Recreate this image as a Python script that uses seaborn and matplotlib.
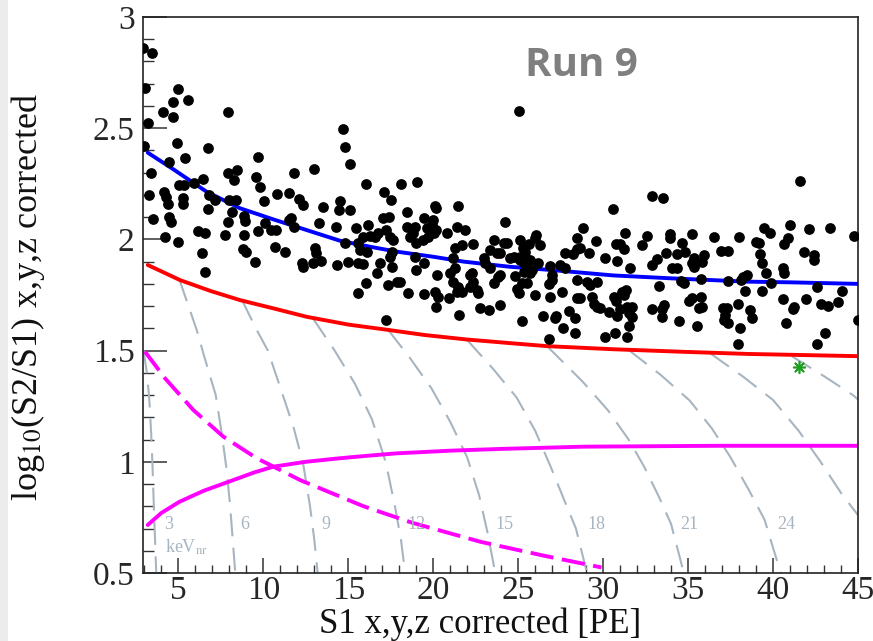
import numpy as np
import pandas as pd
import matplotlib
matplotlib.use("Agg")
import matplotlib.pyplot as plt
import seaborn as sns
from matplotlib.ticker import MultipleLocator, FuncFormatter
from matplotlib.patches import Rectangle

# ---------------- data ----------------
events_left = [
    (2.93, 2.86), (3.45, 2.84), (3.03, 2.68), (4.96, 2.675),
    (3.19, 2.525), (3.00, 2.42), (3.39, 2.30), (3.29, 2.20), (3.49, 2.09),
    (4.08, 2.575), (4.67, 2.62), (4.67, 2.55), (4.18, 2.215), (4.27, 2.19),
    (4.37, 2.16), (4.47, 2.10), (4.57, 2.08), (4.23, 2.01), (4.92, 2.435),
    (4.47, 2.35), (4.96, 1.99), (5.55, 2.627), (5.39, 2.365), (5.06, 2.245),
    (5.36, 2.245), (5.26, 2.185), (5.26, 2.16), (5.95, 2.255), (6.14, 2.04),
    (6.40, 1.94), (6.59, 1.855), (6.54, 2.027), (6.48, 2.27), (6.77, 2.41),
    (6.79, 2.20), (6.77, 2.136), (7.13, 2.177), (7.91, 2.575), (7.95, 2.297),
    (8.25, 2.267), (8.46, 2.312), (8.01, 2.177), (8.40, 2.177), (8.17, 2.125),
    (7.91, 2.077), (7.72, 2.02), (9.68, 2.369), (9.55, 2.282), (9.82, 2.234),
    (10.04, 2.173), (8.86, 2.105), (8.90, 2.084), (9.70, 2.038), (10.10, 2.075),
    (8.86, 2.02), (8.80, 1.955), (8.99, 1.944), (9.52, 1.897), (10.82, 2.203),
    (11.51, 2.21), (10.43, 2.042), (10.76, 2.042), (10.71, 1.967), (11.26, 1.942),
    (11.65, 2.094), (11.51, 2.087), (11.81, 2.057), (11.81, 2.297), (12.10, 2.18),
    (12.34, 2.155), (12.97, 2.315), (13.52, 2.144), (13.26, 2.072), (13.07, 1.962),
    (13.09, 1.937), (12.93, 1.892), (13.38, 1.903), (12.30, 1.895), (12.34, 1.877),
]
events_mid = [
    (14.70, 2.495), (14.80, 2.417), (15.09, 2.337), (14.54, 2.174), (14.46, 2.132),
    (15.09, 2.132), (14.30, 2.054), (14.80, 1.982), (14.34, 1.887), (14.99, 1.897),
    (15.48, 2.053), (15.58, 1.982), (15.68, 1.952), (15.58, 1.892), (15.88, 1.888),
    (16.04, 1.802), (15.58, 1.757), (16.04, 2.248), (16.17, 2.065), (16.27, 2.015),
    (16.57, 2.012), (16.76, 2.027), (16.11, 1.945), (15.84, 2.012), (17.12, 2.212),
    (17.51, 2.177), (17.06, 2.095), (17.41, 2.102), (17.22, 2.042), (17.45, 2.009),
    (17.65, 1.997), (17.55, 1.945), (17.45, 1.922), (16.86, 1.892), (17.55, 1.877),
    (16.67, 1.847), (17.35, 1.795), (17.85, 1.81), (18.04, 1.81), (17.22, 1.637),
    (18.08, 2.248), (18.53, 1.757), (18.43, 2.125), (18.43, 2.057), (18.79, 2.027),
    (18.98, 1.982), (18.93, 2.057), (18.63, 2.012), (19.03, 2.26), (18.93, 1.922),
    (18.98, 1.862), (19.48, 2.098), (19.91, 2.065), (19.61, 2.05), (19.71, 2.012),
    (19.42, 1.997), (20.11, 2.15), (20.17, 2.14), (19.97, 2.087), (20.05, 2.027),
    (20.17, 2.042), (19.48, 1.892), (19.48, 1.754), (20.21, 1.84), (20.11, 1.765),
    (20.30, 1.742), (20.17, 1.697), (20.80, 2.027), (21.48, 2.15), (21.39, 2.057),
    (21.88, 2.042), (21.15, 1.915), (21.29, 1.96), (21.68, 1.975), (20.99, 1.847),
    (21.29, 1.87), (21.19, 1.81), (21.48, 1.787), (21.39, 1.765), (21.68, 1.765),
    (20.95, 1.735), (21.54, 1.66), (22.17, 1.84), (22.27, 1.847), (22.37, 1.81),
    (22.17, 1.787), (22.57, 1.772), (22.66, 1.757), (22.37, 1.979), (22.76, 1.69),
    (22.96, 1.915), (23.06, 1.892), (23.35, 1.952), (23.55, 1.997), (23.75, 1.937),
    (23.94, 1.937), (24.24, 2.08), (24.14, 1.982), (24.34, 1.982), (23.35, 1.87),
    (23.55, 1.802), (23.84, 1.832), (23.94, 1.84), (23.94, 1.705), (23.31, 1.682),
    (24.53, 1.915),
]
events_right = [
    (25.02, 2.577), (41.60, 2.264), (32.85, 2.195), (33.52, 2.188), (30.59, 2.137),
    (28.80, 2.053), (31.28, 2.027), (32.59, 2.015), (33.91, 2.023), (35.21, 2.023),
    (33.91, 2.005), (34.66, 1.985), (36.53, 2.009), (38.00, 2.012), (39.48, 2.05),
    (39.83, 2.03), (41.01, 2.065), (42.13, 2.045), (43.35, 2.053), (44.79, 2.017),
    (40.86, 2.008), (40.62, 1.979), (38.99, 1.99), (39.15, 1.985), (29.60, 1.994),
    (28.46, 2.005), (30.73, 1.979), (30.98, 1.979), (31.22, 1.955), (32.30, 1.975),
    (26.06, 2.02), (25.97, 2.005), (26.26, 1.975), (25.08, 1.997), (25.61, 1.979),
    (25.28, 1.96), (25.08, 1.922), (24.73, 1.922), (25.42, 1.945), (25.12, 1.907),
    (25.51, 1.90), (25.71, 1.907), (25.32, 1.892), (27.78, 1.94), (28.23, 1.934),
    (28.62, 1.963), (28.46, 1.955), (29.15, 1.937), (30.10, 1.918), (30.82, 1.904),
    (31.57, 1.873), (33.68, 1.937), (34.36, 1.934), (34.80, 1.942), (35.35, 1.915),
    (35.94, 1.93), (35.84, 1.897), (35.25, 1.892), (35.35, 1.877), (33.15, 1.912),
    (32.89, 1.885), (34.03, 1.87), (34.36, 1.873), (36.92, 1.948), (37.36, 1.948),
    (39.24, 1.933), (39.34, 1.892), (39.58, 1.85), (40.56, 1.87), (40.62, 1.847),
    (41.80, 1.945), (42.39, 1.93), (42.43, 1.907), (26.14, 1.895), (25.81, 1.862),
    (25.71, 1.85), (26.89, 1.88), (27.48, 1.883), (27.78, 1.87), (26.99, 1.84),
    (26.99, 1.817), (26.79, 1.798), (28.46, 1.817), (29.05, 1.81), (29.25, 1.794),
    (29.64, 1.81), (25.51, 1.802), (25.22, 1.805), (24.83, 1.835), (25.32, 1.855),
    (33.28, 1.79), (34.56, 1.813), (34.76, 1.802), (35.74, 1.82), (37.36, 1.813),
    (38.10, 1.817), (38.26, 1.83), (38.46, 1.84), (39.89, 1.805), (42.59, 1.787),
    (44.04, 1.768), (24.92, 1.775), (25.02, 1.757), (26.01, 1.75), (26.85, 1.742),
    (27.58, 1.762), (28.46, 1.738), (28.66, 1.738), (29.35, 1.742), (29.45, 1.71),
    (29.64, 1.697), (29.84, 1.69), (30.63, 1.74), (30.73, 1.723), (31.12, 1.765),
    (31.32, 1.772), (31.22, 1.75), (31.02, 1.686), (30.82, 1.656), (31.41, 1.695),
    (31.71, 1.698), (31.51, 1.668), (31.71, 1.653), (30.33, 1.675), (27.97, 1.678),
    (28.37, 1.645), (27.24, 1.656), (27.19, 1.645), (26.46, 1.656), (25.22, 1.633),
    (27.64, 1.60), (28.37, 1.581), (26.79, 1.551), (30.10, 1.56), (30.69, 1.578),
    (31.38, 1.56), (31.51, 1.611), (32.89, 1.686), (33.48, 1.686), (33.58, 1.705),
    (33.44, 1.65), (34.46, 1.635), (35.05, 1.723), (35.21, 1.738), (35.74, 1.742),
    (35.84, 1.698), (35.64, 1.693), (35.51, 1.612), (37.08, 1.69), (37.28, 1.69),
    (37.18, 1.66), (37.12, 1.638), (37.36, 1.623), (37.96, 1.708), (38.06, 1.60),
    (37.91, 1.53), (38.65, 1.683), (38.75, 1.648), (39.34, 1.768), (38.34, 1.768),
    (40.56, 1.731), (41.15, 1.686), (41.25, 1.695), (40.76, 1.626), (41.94, 1.731),
    (42.82, 1.708), (43.22, 1.702), (43.81, 1.72), (43.06, 1.578), (42.59, 1.53),
    (44.99, 1.637),
]

# ER band mean (blue)
blue_s1 = [3.2, 4.71, 6.67, 8.63, 10.59, 12.55, 14.51, 16.28, 17.85, 20.0, 21.8,
           24.5, 27.0, 30.6, 34.0, 38.5, 41.0, 45.0]
blue_y = [2.39, 2.315, 2.214, 2.14, 2.09, 2.042, 1.994, 1.967, 1.945, 1.922, 1.90,
          1.877, 1.862, 1.838, 1.825, 1.81, 1.807, 1.80]
# NR band mean (red)
red_s1 = [3.2, 5.1, 6.9, 8.63, 10.8, 12.55, 15.0, 17.35, 19.5, 21.97, 24.3, 26.7,
          30.63, 34.56, 38.5, 45.0]
red_y = [1.885, 1.817, 1.768, 1.727, 1.686, 1.652, 1.617, 1.593, 1.57, 1.55, 1.535,
         1.52, 1.506, 1.495, 1.485, 1.475]
# magenta solid
mag_s1 = [3.2, 4.0, 5.06, 6.5, 8.24, 9.5, 10.59, 12.5, 14.51, 15.8, 17.85, 21.0, 24.0,
          28.85, 36.7, 45.0]
mag_y = [0.716, 0.77, 0.82, 0.87, 0.918, 0.953, 0.978, 1.0, 1.016, 1.025, 1.038,
         1.05, 1.058, 1.068, 1.072, 1.072]
# magenta dashed
magd_s1 = [3.04, 4.22, 5.88, 7.65, 9.61, 11.0, 12.16, 15.9, 18.8, 22.8, 26.5, 29.9]
magd_y = [1.495, 1.375, 1.233, 1.113, 1.016, 0.963, 0.918, 0.80, 0.725, 0.64, 0.578, 0.525]

# energy contours (keVnr)
contour_energies = [3, 6, 9, 12, 15, 18, 21, 24, 27, 30]
contour_s1 = [
    [2.95, 3.15, 3.29, 3.4, 3.48, 3.58, 3.7],
    [5.06, 6.08, 6.5, 7.2, 7.55, 7.85, 8.05, 8.2, 8.35],
    [8.74, 9.61, 10.27, 11.18, 11.8, 12.35, 12.75, 13.0, 13.2],
    [12.92, 14.2, 15.4, 16.4, 17.2, 17.75, 18.1, 18.35],
    [17.35, 18.6, 19.9, 21.0, 22.0, 22.7, 23.2, 23.65],
    [21.97, 23.5, 24.9, 26.0, 26.9, 27.7, 28.4, 29.05],
    [26.7, 28.8, 30.3, 31.5, 32.4, 33.3, 34.0, 34.75],
    [31.5, 33.4, 35.1, 36.4, 37.5, 38.6, 39.5, 40.45],
    [36.3, 38.2, 40.0, 41.5, 42.8, 44.0, 45.0],
    [41.1, 43.0, 44.7, 45.0],
]
contour_y = [
    [1.50, 1.40, 1.28, 1.13, 0.98, 0.75, 0.50],
    [1.82, 1.593, 1.48, 1.30, 1.13, 0.96, 0.80, 0.65, 0.50],
    [1.728, 1.593, 1.50, 1.293, 1.15, 0.99, 0.80, 0.65, 0.50],
    [1.645, 1.50, 1.35, 1.19, 1.0, 0.80, 0.65, 0.50],
    [1.593, 1.47, 1.33, 1.18, 1.02, 0.85, 0.68, 0.50],
    [1.55, 1.42, 1.29, 1.14, 0.98, 0.83, 0.70, 0.50],
    [1.52, 1.36, 1.23, 1.10, 0.98, 0.84, 0.72, 0.50],
    [1.503, 1.39, 1.275, 1.15, 1.02, 0.87, 0.74, 0.50],
    [1.488, 1.385, 1.278, 1.14, 1.0, 0.86, 0.76],
    [1.475, 1.385, 1.30, 1.28],
]
label_energies = ["3", "6", "9", "12", "15", "18", "21", "24"]
label_s1 = [4.4, 8.9, 13.7, 19.0, 24.2, 29.6, 35.1, 40.75]
label_y = 0.72

star_s1 = [41.54]
star_y = [1.425]

x_ticks = [5, 10, 15, 20, 25, 30, 35, 40, 45]
y_ticks = [0.5, 1, 1.5, 2, 2.5, 3]

# ---------------- plotting ----------------
sns.set_theme(style="white")
plt.rcParams['font.family'] = ['Liberation Serif', 'DejaVu Serif']
plt.rcParams['mathtext.fontset'] = 'stix'

fig = plt.figure(figsize=(8.73, 6.41), dpi=100)
fig.patch.set_facecolor('white')
fig.patches.append(Rectangle((0, 0), 8 / 873, 1, transform=fig.transFigure,
                             facecolor='#ececec', edgecolor='none', zorder=0))
ax = fig.add_axes([143 / 873, 68 / 641, 715 / 873, 556 / 641])
ax.set_facecolor('white')

grey = '#a7b5c1'
rows = []
for e, xs, ys in zip(contour_energies, contour_s1, contour_y):
    for xv, yv in zip(xs, ys):
        rows.append({'E': e, 's1': xv, 'y': yv})
cdf = pd.DataFrame(rows)
sns.lineplot(data=cdf, x='s1', y='y', units='E', estimator=None, sort=False,
             color=grey, lw=1.5, linestyle=(0, (11, 5.5)), ax=ax, zorder=1)

sns.lineplot(x=magd_s1, y=magd_y, sort=False, color='#ff00ff', lw=2.8,
             linestyle=(0, (6, 2.2)), ax=ax, zorder=2)
sns.lineplot(x=mag_s1, y=mag_y, sort=False, color='#ff00ff', lw=2.8, ax=ax, zorder=2)
sns.lineplot(x=red_s1, y=red_y, sort=False, color='#ff0000', lw=2.8, ax=ax, zorder=3)
sns.lineplot(x=blue_s1, y=blue_y, sort=False, color='#0000ff', lw=2.8, ax=ax, zorder=3)

events = events_left + events_mid + events_right
ev = pd.DataFrame(events, columns=['s1', 'logr'])
sns.scatterplot(data=ev, x='s1', y='logr', color='black', s=60, linewidth=0,
                ax=ax, zorder=4)

sns.scatterplot(x=star_s1, y=star_y, marker=(8, 2, 0), s=70, color='#1f9e1f',
                edgecolor='#1f9e1f', linewidth=1.2, ax=ax, zorder=5)

for lab, xv in zip(label_energies, label_s1):
    ax.text(xv, label_y, lab, color=grey, fontsize=13, ha='center', va='center')
ax.text(5.45, 0.615, r'keV$_{\rm nr}$', color=grey, fontsize=13, ha='center', va='center')

ax.set_xlim(2.92, 45)
ax.set_ylim(0.5, 3)
ax.set_xticks(x_ticks)
ax.set_yticks(y_ticks)
ax.xaxis.set_minor_locator(MultipleLocator(1))
ax.yaxis.set_minor_locator(MultipleLocator(0.1))
ax.yaxis.set_major_formatter(FuncFormatter(lambda v, p: f'{v:g}'))
ax.xaxis.set_major_formatter(FuncFormatter(lambda v, p: f'{v:g}'))

ax.tick_params(axis='x', which='major', direction='in', length=11, width=1.1,
               color='#333333', labelsize=24, pad=2, top=False, bottom=True)
ax.tick_params(axis='x', which='minor', direction='in', length=6, width=1.0,
               color='#333333', top=False, bottom=True)
ax.tick_params(axis='y', which='major', direction='in', length=17, width=1.1,
               color='#333333', labelsize=24, pad=6, left=True, right=False)
ax.tick_params(axis='y', which='minor', direction='in', length=8, width=1.0,
               color='#333333', left=True, right=False)
for s in ax.spines.values():
    s.set_visible(True)
    s.set_color('#222222')
    s.set_linewidth(1.2)

ax.set_xlabel('S1 x,y,z corrected [PE]', fontsize=25, color='#111111')
ax.set_ylabel(r'log$_{10}$(S2/S1) x,y,z corrected', fontsize=26, color='#111111')
ax.xaxis.set_label_coords(0.472, -0.062)
ax.yaxis.set_label_coords(-0.134, 0.496)

fig.text(581.7 / 873, 1 - 65 / 641, 'Run 9', fontsize=29, fontweight='bold',
         color='#7f7f7f', family=['Open Sans', 'DejaVu Sans'], ha='center', va='center')

fig.savefig('out.png', dpi=100)
